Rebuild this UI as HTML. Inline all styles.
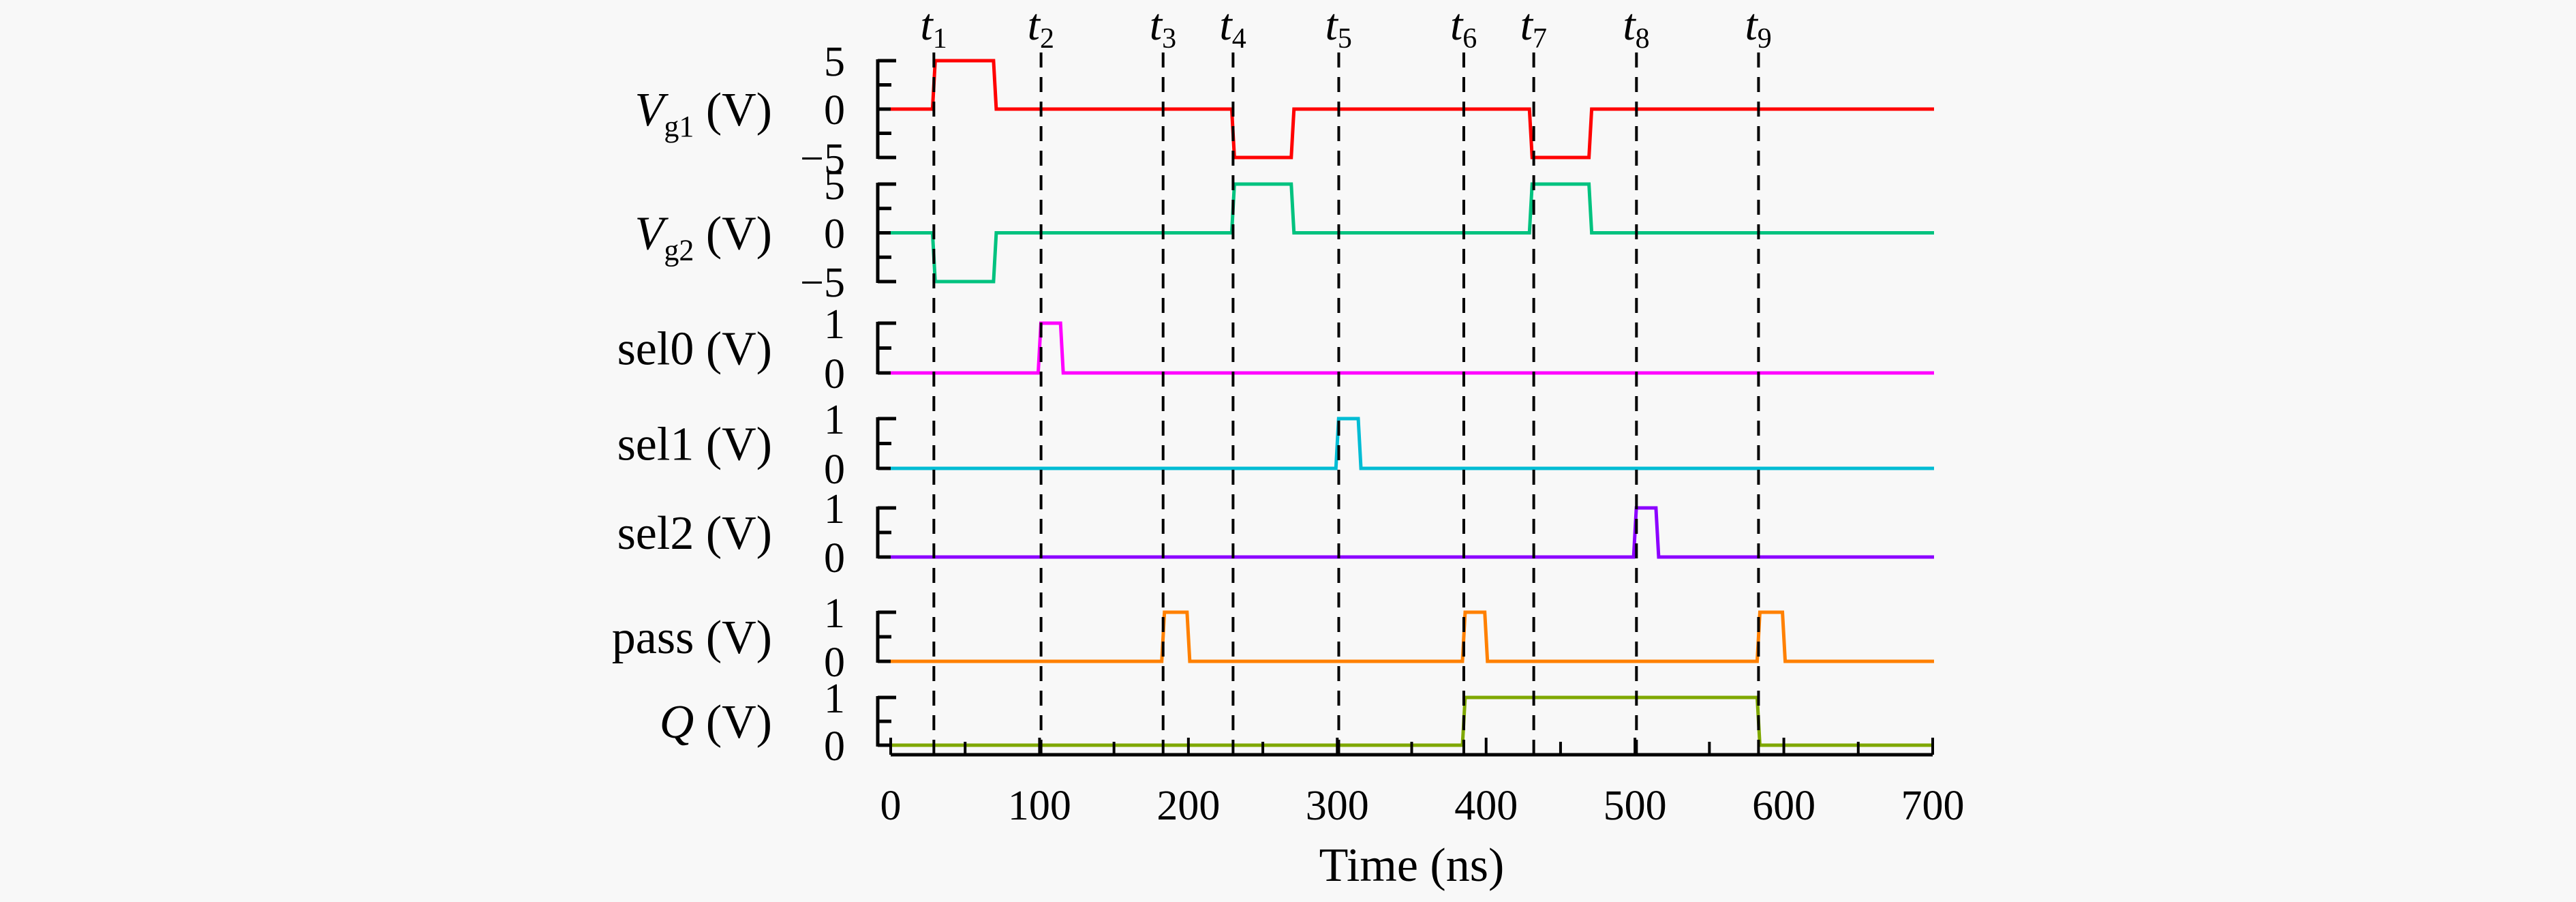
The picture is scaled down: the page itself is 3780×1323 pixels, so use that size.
<!DOCTYPE html>
<html><head><meta charset="utf-8"><style>
html,body{margin:0;padding:0;background:#f8f8f8;}
svg{display:block;font-family:"Liberation Serif",serif;}
</style></head><body>
<svg id="chart" width="3780" height="1323" viewBox="0 0 3780 1323"></svg>
<script>
const events = [29, 101, 183, 230, 301, 385, 432, 501, 583];
const eventLabels = ['1','2','3','4','5','6','7','8','9'];
const xTicks = [0,100,200,300,400,500,600,700];
const vg1Times = [0,29,70,230,270,430,470,700];
const vg1Vals  = [0,5,0,-5,0,-5,0,0];
const vg2Times = [0,29,70,230,270,430,470,700];
const vg2Vals  = [0,-5,0,5,0,5,0,0];
const sel0Times = [0,100,115,700]; const sel0Vals=[0,1,0,0];
const sel1Times = [0,300,315,700]; const sel1Vals=[0,1,0,0];
const sel2Times = [0,500,515,700]; const sel2Vals=[0,1,0,0];
const passTimes = [0,183,200,385,400,583,600,700]; const passVals=[0,1,0,1,0,1,0,0];
const qTimes = [0,385,583,700]; const qVals=[0,1,0,0];

const NS='http://www.w3.org/2000/svg';
const svg=document.getElementById('chart');
function el(t,a,p){const e=document.createElementNS(NS,t);for(const k in a)e.setAttribute(k,a[k]);(p||svg).appendChild(e);return e;}
const X0=1307,X1=2836;
const xs=v=>X0+(v/700)*(X1-X0);
const rows=[
 {name:'vg1',label:'V',sub:'g1',color:'#ff0000',t:vg1Times,v:vg1Vals,lo:-5,hi:5,yl:231,yh:89,ticks:['5','0','\u22125']},
 {name:'vg2',label:'V',sub:'g2',color:'#00c27f',t:vg2Times,v:vg2Vals,lo:-5,hi:5,yl:413,yh:270,ticks:['5','0','\u22125']},
 {name:'sel0',label:'sel0',color:'#ff00ff',t:sel0Times,v:sel0Vals,lo:0,hi:1,yl:547,yh:474,ticks:['1','0']},
 {name:'sel1',label:'sel1',color:'#00bcd4',t:sel1Times,v:sel1Vals,lo:0,hi:1,yl:687,yh:614,ticks:['1','0']},
 {name:'sel2',label:'sel2',color:'#8b00ff',t:sel2Times,v:sel2Vals,lo:0,hi:1,yl:817,yh:745,ticks:['1','0']},
 {name:'pass',label:'pass',color:'#ff8000',t:passTimes,v:passVals,lo:0,hi:1,yl:970,yh:898,ticks:['1','0']},
 {name:'q',label:'Q',color:'#7fa800',t:qTimes,v:qVals,lo:0,hi:1,yl:1093,yh:1023,ticks:['1','0']}
];
rows.forEach(r=>{
 const g=el('g',{});
 
 
 const ys=v=>r.yl+(v-r.lo)/(r.hi-r.lo)*(r.yh-r.yl);
 const ax=el('path',{d:`M1288,${r.yh-2}V${r.yl+2}`,stroke:'#000','stroke-width':5,fill:'none'},g);
 
 
 const n=(r.hi-r.lo)===10?4:2;
 for(let i=0;i<=n;i++){const y=r.yl+(r.yh-r.yl)*i/n;const major=(i%2===0);
  el('line',{x1:1288,x2:major?1315:1308,y1:y,y2:y,stroke:'#000','stroke-width':5},g);}
 const tv=r.ticks.length===3?[r.hi,0,r.lo]:[r.hi,r.lo];
 r.ticks.forEach((s,i)=>{const tx=el('text',{x:1240,y:ys(tv[i])+22,'font-size':62,'text-anchor':'end'},g);tx.textContent=s;
  
  });
 const lbl=el('text',{x:1133,y:(r.yl+r.yh)/2+24,'font-size':70,'text-anchor':'end'},g);
 
 
 if(r.sub){lbl.innerHTML=`<tspan font-style="italic">V</tspan><tspan font-size="44" dy="16">${r.sub}</tspan><tspan dy="-16"> (V)</tspan>`;}
 else if(r.label==='Q'){lbl.innerHTML=`<tspan font-style="italic">Q</tspan> (V)`;}
 else lbl.textContent=r.label+' (V)';
 let d='';
 for(let i=0;i<r.t.length;i++){const x=xs(r.t[i]),y=ys(r.v[i]);
  if(i===0)d+=`M${x},${y}`;else{d+=`H${x-2}L${x+2},${y}`;}}
 const p=el('path',{d:d,stroke:r.color,'stroke-width':5,fill:'none'},g);
 
 
});
const xa=el('line',{x1:X0,x2:X1,y1:1107,y2:1107,stroke:'#000','stroke-width':5});


for(let v=0;v<=700;v+=50){el('line',{x1:xs(v),x2:xs(v),y1:1107,y2:v%100===0?1082:1088,stroke:'#000','stroke-width':4});}
xTicks.forEach(v=>{const t=el('text',{x:xs(v),y:1202,'font-size':62,'text-anchor':'middle'});t.textContent=v;
 
 });
const xt=el('text',{x:(X0+X1)/2,y:1292,'font-size':70,'text-anchor':'middle'});xt.textContent='Time (ns)';


events.forEach((e,i)=>{const x=xs(e);
 const l=el('line',{x1:x,x2:x,y1:77,y2:1115,stroke:'#000','stroke-width':4,'stroke-dasharray':'22,14'});
 
 
 const t=el('text',{x:x-20,y:58,'font-size':66});
 t.innerHTML=`<tspan font-style="italic">t</tspan><tspan font-size="42" dy="12">${eventLabels[i]}</tspan>`;
 
 
});
</script>
</body></html>
